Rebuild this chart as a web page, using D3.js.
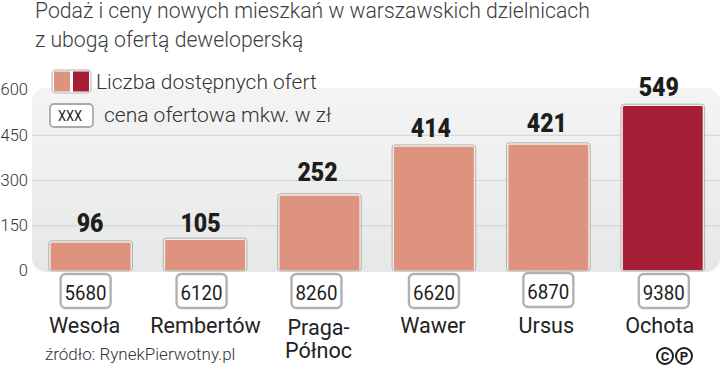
<!DOCTYPE html>
<html lang="en">
<head>
<meta charset="UTF-8">
<title>Podaż i ceny nowych mieszkań</title>
<script src="https://d3js.org/d3.v7.min.js"></script>
<style>
    html, body { margin: 0; padding: 0; background: #fff; }
    svg { display: block; }
    text { font-family: Roboto, sans-serif; }
    .title { font-size: 21.2px; font-weight: 300; fill: #3d3d3d; }
    .tick text { font-size: 16.5px; font-weight: 300; fill: #333; }
    .legend { font-size: 21px; font-weight: 300; fill: #333; }
    .value { font-size: 25px; font-weight: 900; fill: #1d1d1b; }
    .price { font-size: 21px; fill: #1d1d1b; }
    .cat { font-size: 21.6px; font-weight: 400; fill: #222; }
    .source { font-size: 17px; font-weight: 300; fill: #333; }
</style>
</head>
<body>
<script>
    const districts = ["Wesoła", "Rembertów", "Praga-Północ", "Wawer", "Ursus", "Ochota"]
    const offers = [96, 105, 252, 414, 421, 549]
    const prices = [5680, 6120, 8260, 6620, 6870, 9380]
    const yTicks = [0, 150, 300, 450, 600]
    const titleLines = ["Podaż i ceny nowych mieszkań w warszawskich dzielnicach", "z ubogą ofertą deweloperską"]

    const width = 720
    const height = 365
    const light = "#dd937d"
    const dark = "#a51e36"

    const svg = d3.select("body").append("svg")
        .attr("width", width).attr("height", height)

    const x = d3.scaleBand().domain(districts).range([33.4, 720]).paddingInner(0.29).paddingOuter(0.145)
    const y = d3.scaleLinear().domain([0, 600]).range([271, 90])
    const mid = d => x(d) + x.bandwidth() / 2

    const grad = svg.append("defs").append("linearGradient").attr("id", "panel")
        .attr("x1", 0).attr("x2", 0).attr("y1", 0).attr("y2", 1)
    grad.append("stop").attr("offset", "0%").attr("stop-color", "#f4f4f4")
    grad.append("stop").attr("offset", "100%").attr("stop-color", "#e6e8e8")

    // grey panel behind the bars
    svg.append("rect").attr("x", 32).attr("y", 88).attr("width", 688).attr("height", 184)
        .attr("rx", 14).attr("fill", "url(#panel)")

    const yAxis = d3.axisLeft(y).tickValues(yTicks).tickSize(0)
    const gy = svg.append("g").attr("transform", "translate(32,0)").call(yAxis)
    gy.select(".domain").remove()
    gy.selectAll(".tick text").attr("x", -4).attr("dy", "0.3em")
    svg.selectAll(".grid").data(yTicks.filter(d => d > 0 && d < 600)).enter().append("line")
        .attr("class", "grid")
        .attr("x1", 32).attr("x2", width)
        .attr("y1", d => y(d)).attr("y2", d => y(d))
        .attr("stroke", "#cfd2d2").attr("stroke-width", 1)

    const tableData = districts.map((d, i) => ({ name: d, offers: offers[i], price: prices[i] }))

    // bars
    svg.selectAll(".bar").data(tableData).enter().append("rect")
        .attr("class", "bar")
        .attr("x", d => x(d.name))
        .attr("y", d => y(d.offers))
        .attr("width", x.bandwidth())
        .attr("height", d => y(0) - y(d.offers))
        .attr("rx", 2)
        .attr("fill", (d, i) => i === 5 ? dark : light)
        .attr("stroke", "#f7ece6").attr("stroke-width", 1.4)
    svg.selectAll(".barEdge").data(tableData).enter().append("rect")
        .attr("class", "barEdge")
        .attr("x", d => x(d.name) - 1.2)
        .attr("y", d => y(d.offers) - 1.2)
        .attr("width", x.bandwidth() + 2.4)
        .attr("height", d => y(0) - y(d.offers) + 1.2)
        .attr("rx", 3)
        .attr("fill", "none").attr("stroke", "#9fa5a3").attr("stroke-width", 0.8)

    // the labels are hand placed in the original, so they get small nudges
    const valueDx = [-0.5, -4.5, -2, -3, -1.5, -4]
    const valueDy = [10, 7, 14, 9, 12, 9]
    svg.selectAll(".value").data(tableData).enter().append("text")
        .attr("class", "value")
        .attr("x", (d, i) => mid(d.name) + valueDx[i])
        .attr("y", (d, i) => y(d.offers) - valueDy[i])
        .attr("text-anchor", "middle")
        .attr("textLength", d => String(d.offers).length * 13.4)
        .attr("lengthAdjust", "spacingAndGlyphs")
        .text(d => d.offers)

    const boxDx = [-5, -3.5, -3, 0, 0, 1]
    const boxY = [274, 274, 274, 274, 273, 274]
    const boxes = svg.selectAll(".box").data(tableData).enter().append("g")
        .attr("class", "box")
        .attr("transform", (d, i) => `translate(${mid(d.name) + boxDx[i]},${boxY[i]})`)
    boxes.append("rect").attr("x", -25).attr("y", 0).attr("width", 50).attr("height", 34)
        .attr("rx", 5).attr("fill", "#fff").attr("stroke", "#b0b2b1").attr("stroke-width", 2.4)
    boxes.append("text").attr("class", "price").attr("y", 26).attr("text-anchor", "middle")
        .attr("textLength", 42).attr("lengthAdjust", "spacingAndGlyphs")
        .text(d => d.price)

    // category labels
    const catLines = { "Praga-Północ": ["Praga-", "Północ"] }
    const catDx = [-6, 0.5, -1, -1, -2, -3]
    svg.selectAll(".cat").data(tableData).enter().append("text")
        .attr("class", "cat")
        .attr("text-anchor", "middle")
        .attr("transform", (d, i) => `translate(${mid(d.name) + catDx[i]},${d.name in catLines ? 335 : 333})`)
        .each(function (d) {
            const lines = catLines[d.name] || [d.name]
            d3.select(this).selectAll("tspan").data(lines).enter().append("tspan")
                .attr("x", 0).attr("dy", (l, i) => i ? 23 : 0).text(l => l)
        })

    svg.selectAll(".title").data(titleLines).enter().append("text")
        .attr("class", "title")
        .attr("x", 35).attr("y", (d, i) => 18 + i * 28.5)
        .text(d => d)

    // legend
    svg.append("rect").attr("x", 52).attr("y", 70).attr("width", 39).attr("height", 23).attr("rx", 4)
        .attr("fill", "#fff").attr("stroke", "#c9c9c9").attr("stroke-width", 1.5)
    svg.append("rect").attr("x", 54).attr("y", 71.5).attr("width", 16).attr("height", 20).attr("fill", light)
    svg.append("rect").attr("x", 73).attr("y", 71.5).attr("width", 16).attr("height", 20).attr("fill", dark)
    svg.append("text").attr("class", "legend").attr("x", 96).attr("y", 89).text("Liczba dostępnych ofert")
    svg.append("rect").attr("x", 50).attr("y", 104).attr("width", 43).attr("height", 23).attr("rx", 4)
        .attr("fill", "#fff").attr("stroke", "#a9abaa").attr("stroke-width", 1.8)
    svg.append("text").attr("class", "price").attr("x", 70).attr("y", 121).attr("text-anchor", "middle")
        .style("font-size", "15.5px").attr("textLength", 24).attr("lengthAdjust", "spacingAndGlyphs").text("XXX")
    svg.append("text").attr("class", "legend").attr("x", 104).attr("y", 122).text("cena ofertowa mkw. w zł")

    svg.append("text").attr("class", "source").attr("x", 45).attr("y", 360).text("źródło: RynekPierwotny.pl")

    // copyright mark
    const marks = svg.selectAll(".mark").data(["C", "P"]).enter().append("g")
        .attr("class", "mark")
        .attr("transform", (d, i) => `translate(${665 + i * 19},356)`)
    marks.append("circle").attr("r", 8).attr("fill", "#fff").attr("stroke", "#1d1d1b").attr("stroke-width", 2)
    marks.append("text").attr("y", 4.5).attr("text-anchor", "middle")
        .style("font-size", "13px").style("font-weight", "bold").attr("fill", "#1d1d1b").text(d => d)
</script>
</body>
</html>
